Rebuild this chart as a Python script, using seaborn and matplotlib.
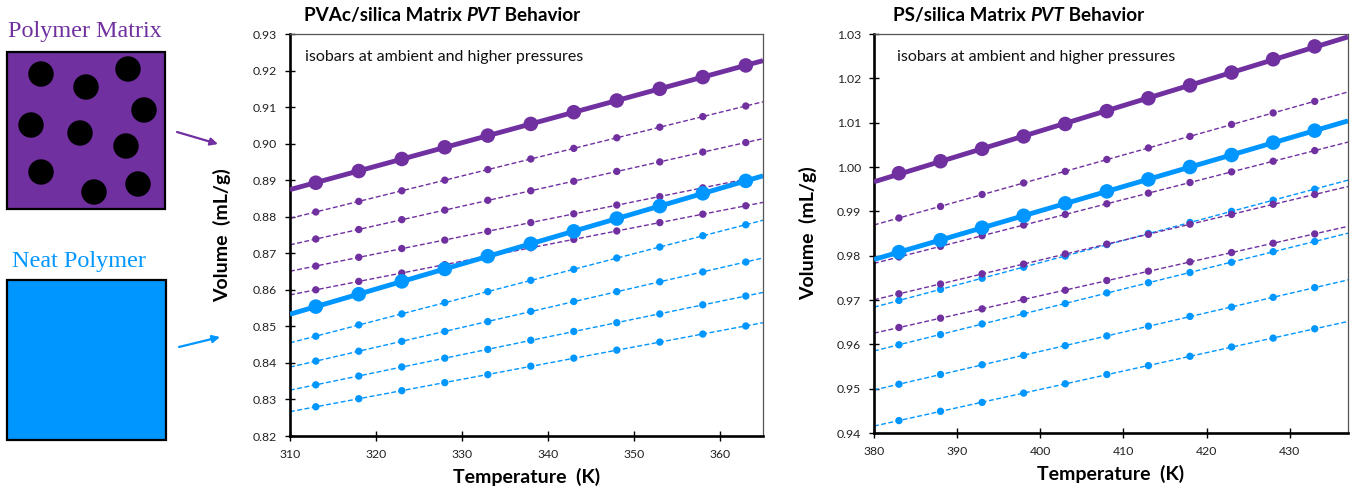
import matplotlib
matplotlib.use("Agg")
import matplotlib.pyplot as plt
from matplotlib.patches import Rectangle, Circle
import seaborn as sns
import numpy as np

# ---------------- data ----------------
T_left = [313, 318, 323, 328, 333, 338, 343, 348, 353, 358, 363]
pvac_matrix_ambient = [0.8893, 0.8925, 0.8958, 0.8990, 0.9022, 0.9054, 0.9086, 0.9118, 0.9150, 0.9182, 0.9214]
pvac_matrix_p1 = [0.8813, 0.8842, 0.8871, 0.8900, 0.8929, 0.8958, 0.8987, 0.9016, 0.9045, 0.9074, 0.9103]
pvac_matrix_p2 = [0.8739, 0.8765, 0.8792, 0.8818, 0.8845, 0.8871, 0.8897, 0.8924, 0.8950, 0.8977, 0.9003]
pvac_matrix_p3 = [0.8665, 0.8689, 0.8713, 0.8736, 0.8760, 0.8784, 0.8808, 0.8832, 0.8855, 0.8879, 0.8903]
pvac_matrix_p4 = [0.8600, 0.8623, 0.8646, 0.8669, 0.8692, 0.8715, 0.8738, 0.8761, 0.8784, 0.8807, 0.8830]
pvac_neat_ambient = [0.8554, 0.8588, 0.8623, 0.8657, 0.8692, 0.8726, 0.8760, 0.8795, 0.8829, 0.8864, 0.8898]
pvac_neat_p1 = [0.8473, 0.8504, 0.8534, 0.8565, 0.8595, 0.8626, 0.8656, 0.8687, 0.8717, 0.8748, 0.8778]
pvac_neat_p2 = [0.8405, 0.8432, 0.8459, 0.8486, 0.8513, 0.8541, 0.8568, 0.8595, 0.8622, 0.8649, 0.8676]
pvac_neat_p3 = [0.8340, 0.8364, 0.8389, 0.8413, 0.8437, 0.8462, 0.8486, 0.8510, 0.8534, 0.8559, 0.8583]
pvac_neat_p4 = [0.8280, 0.8302, 0.8324, 0.8346, 0.8368, 0.8391, 0.8413, 0.8435, 0.8457, 0.8479, 0.8501]

T_right = [383, 388, 393, 398, 403, 408, 413, 418, 423, 428, 433]
ps_matrix_ambient = [0.9986, 1.0013, 1.0041, 1.0069, 1.0097, 1.0126, 1.0155, 1.0184, 1.0213, 1.0243, 1.0272]
ps_matrix_p1 = [0.9885, 0.9911, 0.9938, 0.9964, 0.9990, 1.0017, 1.0043, 1.0069, 1.0096, 1.0122, 1.0148]
ps_matrix_p2 = [0.9797, 0.9821, 0.9845, 0.9869, 0.9893, 0.9917, 0.9941, 0.9965, 0.9989, 1.0013, 1.0037]
ps_matrix_p3 = [0.9714, 0.9736, 0.9759, 0.9781, 0.9804, 0.9826, 0.9848, 0.9871, 0.9893, 0.9916, 0.9938]
ps_matrix_p4 = [0.9638, 0.9659, 0.9680, 0.9701, 0.9722, 0.9744, 0.9765, 0.9786, 0.9807, 0.9828, 0.9849]
ps_neat_ambient = [0.9808, 0.9835, 0.9863, 0.9890, 0.9918, 0.9945, 0.9972, 1.0000, 1.0027, 1.0055, 1.0082]
ps_neat_p1 = [0.9699, 0.9724, 0.9749, 0.9774, 0.9799, 0.9825, 0.9850, 0.9875, 0.9900, 0.9925, 0.9950]
ps_neat_p2 = [0.9599, 0.9622, 0.9646, 0.9669, 0.9692, 0.9716, 0.9739, 0.9762, 0.9785, 0.9809, 0.9832]
ps_neat_p3 = [0.9510, 0.9532, 0.9554, 0.9575, 0.9597, 0.9619, 0.9641, 0.9663, 0.9684, 0.9706, 0.9728]
ps_neat_p4 = [0.9428, 0.9449, 0.9469, 0.9490, 0.9511, 0.9532, 0.9552, 0.9573, 0.9594, 0.9614, 0.9635]

left_yticks = [0.82, 0.83, 0.84, 0.85, 0.86, 0.87, 0.88, 0.89, 0.90, 0.91, 0.92, 0.93]
left_xticks = [310, 320, 330, 340, 350, 360]
right_yticks = [0.94, 0.95, 0.96, 0.97, 0.98, 0.99, 1.00, 1.01, 1.02, 1.03]
right_xticks = [380, 390, 400, 410, 420, 430]

PURPLE = "#7030A0"
BLUE = "#0096FF"

# ---------------- style ----------------
sns.set_theme(style="white")
plt.rcParams["font.family"] = ["Lato", "DejaVu Sans"]

fig = plt.figure(figsize=(13.55, 4.93), dpi=100)

# overlay axes in pixel coordinates for the illustrations / titles
ax0 = fig.add_axes([0, 0, 1, 1], zorder=-1)
ax0.set_xlim(0, 1355)
ax0.set_ylim(493, 0)
ax0.axis("off")

serif = ["Liberation Serif", "DejaVu Serif"]
ax0.text(8, 32, "Polymer Matrix", family=serif, fontsize=17.4, color=PURPLE, va="center", ha="left")
ax0.add_patch(Rectangle((7, 52), 158, 157, facecolor=PURPLE, edgecolor="black", lw=1.6))
dots = [(41, 74), (86, 87), (128, 69), (144, 110), (31, 125), (80, 133),
        (126, 146), (41, 172), (94, 192), (138, 184)]
for cx, cy in dots:
    ax0.add_patch(Circle((cx, cy), 12.7, facecolor="black", edgecolor="none"))
ax0.text(12, 262, "Neat Polymer", family=serif, fontsize=17.4, color=BLUE, va="center", ha="left")
ax0.add_patch(Rectangle((7, 280), 159, 160, facecolor=BLUE, edgecolor="black", lw=1.6))
ax0.annotate("", xy=(218, 144), xytext=(177, 132),
             arrowprops=dict(arrowstyle="-|>", color=PURPLE, lw=1.6, mutation_scale=11, shrinkA=0, shrinkB=0))
ax0.annotate("", xy=(220, 337), xytext=(179, 347),
             arrowprops=dict(arrowstyle="-|>", color=BLUE, lw=1.6, mutation_scale=11, shrinkA=0, shrinkB=0))

ax_l = fig.add_axes([290 / 1355, 1 - 436 / 493, 473 / 1355, 402 / 493])
ax_r = fig.add_axes([874 / 1355, 1 - 433 / 493, 474 / 1355, 399 / 493])


def draw_panel(ax, T, thick, dashed, xlim, ylim, xticks, yticks):
    ax.set_xlim(*xlim)
    ax.set_ylim(*ylim)
    for vals, col in dashed:
        sns.regplot(x=np.array(T), y=np.array(vals), ax=ax, ci=None, truncate=False, color=col,
                    scatter_kws=dict(s=28, edgecolors="none", alpha=1, zorder=3),
                    line_kws=dict(lw=1.0, ls=(0, (3.5, 1.8)), zorder=2))
    for vals, col in thick:
        sns.regplot(x=np.array(T), y=np.array(vals), ax=ax, ci=None, truncate=False, color=col,
                    scatter_kws=dict(s=110, edgecolors="none", alpha=1, zorder=5),
                    line_kws=dict(lw=3.5, zorder=4, solid_capstyle="butt"))
    ax.set_xlim(*xlim)
    ax.set_ylim(*ylim)
    ax.set_xticks(xticks)
    ax.set_yticks(yticks)
    ax.set_yticklabels([f"{v:.2f}" for v in yticks])
    ax.set_xticklabels([str(v) for v in xticks])
    ax.tick_params(axis="both", which="major", direction="inout", length=7, width=1.0,
                   color="black", labelsize=8.8, labelcolor="#222222", left=True, bottom=True)
    ax.tick_params(axis="y", pad=6)
    ax.tick_params(axis="x", pad=6)
    for side in ("left", "bottom"):
        ax.spines[side].set_linewidth(1.9)
        ax.spines[side].set_color("black")
    for side in ("top", "right"):
        ax.spines[side].set_linewidth(0.9)
        ax.spines[side].set_color("#555555")
    ax.set_xlabel("Temperature  (K)", fontsize=14, fontweight="bold", color="black")
    ax.set_ylabel("Volume  (mL/g)", fontsize=14, fontweight="bold", color="black")
    ax.grid(False)


draw_panel(ax_l, T_left,
           thick=[(pvac_neat_ambient, BLUE), (pvac_matrix_ambient, PURPLE)],
           dashed=[(pvac_matrix_p1, PURPLE), (pvac_matrix_p2, PURPLE), (pvac_matrix_p3, PURPLE),
                   (pvac_matrix_p4, PURPLE), (pvac_neat_p1, BLUE), (pvac_neat_p2, BLUE),
                   (pvac_neat_p3, BLUE), (pvac_neat_p4, BLUE)],
           xlim=(310, 365), ylim=(0.82, 0.93), xticks=left_xticks, yticks=left_yticks)
draw_panel(ax_r, T_right,
           thick=[(ps_neat_ambient, BLUE), (ps_matrix_ambient, PURPLE)],
           dashed=[(ps_matrix_p1, PURPLE), (ps_matrix_p2, PURPLE), (ps_neat_p1, BLUE),
                   (ps_matrix_p3, PURPLE), (ps_matrix_p4, PURPLE), (ps_neat_p2, BLUE),
                   (ps_neat_p3, BLUE), (ps_neat_p4, BLUE)],
           xlim=(380, 437), ylim=(0.94, 1.03), xticks=right_xticks, yticks=right_yticks)

ax_l.yaxis.set_label_coords(-0.125, 0.5)
ax_r.yaxis.set_label_coords(-0.121, 0.5)
ax_l.xaxis.set_label_coords(0.5, -0.08)
ax_r.xaxis.set_label_coords(0.5, -0.08)

ax_l.text(0.032, 0.943, "isobars at ambient and higher pressures", transform=ax_l.transAxes,
          fontsize=11.5, va="center", ha="left", color="#111111")
ax_r.text(0.049, 0.943, "isobars at ambient and higher pressures", transform=ax_r.transAxes,
          fontsize=11.5, va="center", ha="left", color="#111111")

# titles with mixed bold / bold-italic pieces
fig.canvas.draw()
renderer = fig.canvas.get_renderer()


def mixed_title(x, y, pieces, size):
    cur = x
    for txt, italic in pieces:
        t = ax0.text(cur, y, txt, fontsize=size, fontweight="bold",
                     style="italic" if italic else "normal", va="baseline", ha="left", color="black")
        bb = t.get_window_extent(renderer=renderer)
        cur = bb.x1


mixed_title(304, 21, [("PVAc/silica Matrix ", False), ("PVT", True), (" Behavior", False)], 13.6)
mixed_title(893, 21, [("PS/silica Matrix ", False), ("PVT", True), (" Behavior", False)], 13.6)

fig.savefig("out.png", dpi=100)
